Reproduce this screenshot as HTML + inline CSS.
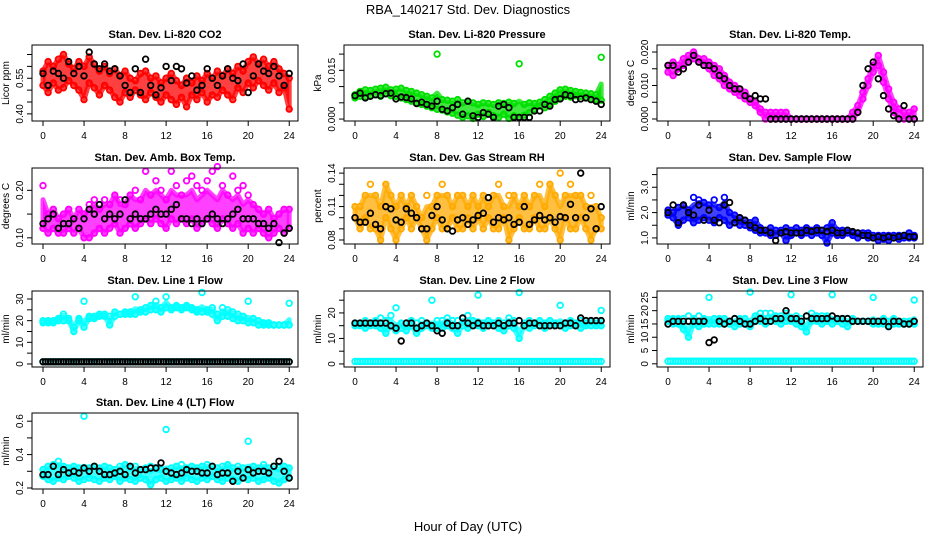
<!DOCTYPE html>
<html><head><meta charset="utf-8"><style>
body{margin:0;background:#fff}
svg{display:block;font-family:"Liberation Sans",sans-serif}
</style></head><body>
<svg id="chart" width="936" height="540" viewBox="0 0 936 540">
<text x="468" y="14" font-size="13" text-anchor="middle">RBA_140217  Std. Dev. Diagnostics</text>
<text x="468" y="531" font-size="13" text-anchor="middle">Hour of Day (UTC)</text>
</svg>
<script>
const xTicks=[0,4,8,12,16,20,24];
const co2A=[0.58,0.62,0.60,0.63,0.65,0.61,0.59,0.62,0.60,0.64,0.61,0.58,0.60,0.57,0.59,0.56,0.58,0.55,0.54,0.57,0.58,0.55,0.56,0.53,0.55,0.57,0.54,0.52,0.55,0.53,0.56,0.54,0.57,0.55,0.58,0.56,0.59,0.57,0.60,0.58,0.62,0.64,0.61,0.63,0.60,0.62,0.59,0.57,0.55];
const co2B=[0.52,0.49,0.53,0.50,0.51,0.54,0.52,0.50,0.46,0.53,0.51,0.48,0.52,0.50,0.47,0.45,0.49,0.47,0.50,0.48,0.46,0.49,0.47,0.45,0.48,0.46,0.44,0.47,0.43,0.48,0.46,0.49,0.45,0.48,0.47,0.50,0.48,0.46,0.51,0.49,0.53,0.51,0.54,0.52,0.50,0.53,0.49,0.51,0.42];
const co2K=[0.57,0.52,0.58,0.57,0.55,0.62,0.57,0.60,0.56,0.66,0.61,0.59,0.61,0.58,0.59,0.56,0.52,0.49,0.59,0.49,0.63,0.52,0.48,0.51,0.60,0.54,0.60,0.59,0.53,0.56,0.50,0.52,0.59,0.55,0.52,0.56,0.59,0.55,0.54,0.61,0.49,0.56,0.61,0.58,0.57,0.60,0.56,0.52,0.57];
const presA=[0.0075,0.0085,0.0090,0.0088,0.0092,0.0095,0.0098,0.0090,0.0092,0.0095,0.0088,0.0085,0.0080,0.0075,0.0070,0.0065,0.0200,0.0060,0.0058,0.0055,0.0060,0.0050,0.0055,0.0050,0.0045,0.0050,0.0048,0.0045,0.0050,0.0048,0.0052,0.0048,0.0170,0.0045,0.0050,0.0048,0.0052,0.0060,0.0070,0.0080,0.0090,0.0092,0.0088,0.0085,0.0082,0.0080,0.0078,0.0075,0.0190];
const presB=[0.0065,0.0070,0.0068,0.0072,0.0075,0.0070,0.0078,0.0072,0.0070,0.0065,0.0060,0.0055,0.0050,0.0045,0.0040,0.0035,0.0030,0.0028,0.0022,0.0018,0.0012,0.0005,0.0010,0.0002,0.0015,0.0008,0.0020,0.0010,0.0005,0.0015,0.0002,0.0010,0.0005,0.0012,0.0020,0.0030,0.0040,0.0035,0.0045,0.0055,0.0065,0.0070,0.0068,0.0072,0.0070,0.0065,0.0062,0.0060,0.0058];
const presK=[0.0072,0.0080,0.0065,0.0070,0.0075,0.0072,0.0078,0.0080,0.0062,0.0068,0.0066,0.0062,0.0048,0.0052,0.0045,0.0040,0.0055,0.0030,0.0025,0.0035,0.0045,0.0015,0.0055,0.0010,0.0005,0.0020,0.0015,0.0005,0.0040,0.0045,0.0035,0.0005,0.0005,0.0005,0.0005,0.0025,0.0025,0.0045,0.0040,0.0060,0.0062,0.0075,0.0072,0.0060,0.0062,0.0065,0.0060,0.0055,0.0045];
const tempA=[0.016,0.017,0.016,0.018,0.019,0.020,0.018,0.018,0.017,0.016,0.015,0.013,0.011,0.010,0.009,0.008,0.006,0.005,0.003,0.002,0.002,0.002,0.002,0.002,0,0,0,0,0,0,0,0,0,0,0,0,0.002,0.004,0.008,0.012,0.016,0.019,0.014,0.009,0.005,0.003,0.002,0.002,0.003];
const tempB=[0.014,0.013,0.015,0.016,0.017,0.018,0.017,0.016,0.015,0.013,0.012,0.010,0.009,0.008,0.007,0.006,0.005,0.004,0.002,0,0,0,0,0,0,0,0,0,0,0,0,0,0,0,0,0,0,0.002,0.006,0.010,0.014,0.016,0.011,0.006,0.002,0,0,0,0];
const tempK=[0.016,0.016,0.014,0.015,0.017,0.019,0.017,0.016,0.016,0.015,0.013,0.012,0.010,0.009,0.009,0.007,0.006,0.007,0.006,0.006,0,0,0,0,0,0,0,0,0,0,0,0,0,0,0,0,0,0.002,0.010,0.015,0.017,0.012,0.007,0.003,0.001,0,0.004,0,0];
const ambA=[0.21,0.15,0.16,0.14,0.15,0.16,0.14,0.16,0.15,0.17,0.18,0.16,0.18,0.17,0.19,0.18,0.17,0.19,0.20,0.18,0.24,0.19,0.22,0.20,0.18,0.24,0.21,0.19,0.22,0.23,0.21,0.20,0.22,0.24,0.25,0.21,0.19,0.23,0.20,0.21,0.19,0.17,0.16,0.15,0.16,0.14,0.15,0.16,0.16];
const ambB=[0.12,0.11,0.12,0.11,0.11,0.12,0.11,0.12,0.10,0.10,0.11,0.12,0.11,0.12,0.13,0.11,0.12,0.13,0.12,0.13,0.14,0.13,0.14,0.13,0.12,0.14,0.13,0.14,0.13,0.14,0.12,0.13,0.14,0.13,0.12,0.14,0.13,0.12,0.13,0.11,0.12,0.11,0.12,0.11,0.10,0.11,0.12,0.11,0.12];
const ambK=[0.13,0.14,0.15,0.12,0.13,0.13,0.14,0.12,0.14,0.16,0.15,0.17,0.14,0.15,0.14,0.15,0.18,0.14,0.15,0.14,0.14,0.15,0.16,0.15,0.15,0.16,0.17,0.14,0.14,0.13,0.14,0.13,0.14,0.15,0.14,0.13,0.14,0.15,0.16,0.14,0.14,0.14,0.13,0.13,0.12,0.13,0.09,0.11,0.12];
const rhA=[0.11,0.11,0.12,0.13,0.12,0.11,0.13,0.12,0.11,0.12,0.11,0.12,0.11,0.10,0.12,0.11,0.12,0.13,0.12,0.11,0.12,0.12,0.11,0.12,0.11,0.12,0.11,0.12,0.13,0.11,0.12,0.12,0.11,0.12,0.11,0.12,0.13,0.11,0.13,0.12,0.14,0.12,0.13,0.12,0.12,0.11,0.12,0.11,0.10];
const rhB=[0.10,0.09,0.10,0.09,0.09,0.08,0.10,0.09,0.08,0.09,0.10,0.09,0.10,0.09,0.08,0.09,0.10,0.09,0.09,0.10,0.09,0.09,0.10,0.09,0.10,0.09,0.10,0.09,0.09,0.10,0.08,0.09,0.10,0.09,0.09,0.10,0.09,0.09,0.10,0.09,0.08,0.10,0.09,0.09,0.10,0.09,0.08,0.09,0.09];
const rhK=[0.100,0.096,0.096,0.104,0.094,0.090,0.110,0.108,0.098,0.096,0.108,0.104,0.100,0.090,0.090,0.102,0.110,0.098,0.090,0.088,0.098,0.100,0.094,0.098,0.102,0.104,0.118,0.096,0.100,0.098,0.100,0.094,0.096,0.110,0.094,0.098,0.102,0.098,0.100,0.096,0.101,0.100,0.112,0.100,0.140,0.100,0.108,0.090,0.110];
const sfA=[2.1,2.0,2.2,2.3,2.1,2.6,2.5,2.4,2.3,2.5,2.2,2.6,2.0,1.9,1.8,1.7,1.6,1.7,1.4,1.3,1.4,1.3,1.3,1.4,1.3,1.4,1.3,1.4,1.3,1.4,1.3,1.4,1.6,1.3,1.3,1.3,1.2,1.2,1.2,1.2,1.1,1.1,1.1,1.1,1.1,1.1,1.1,1.2,1.1];
const sfB=[1.9,1.8,1.5,1.7,1.8,1.6,1.7,1.8,1.7,1.6,1.8,1.7,1.5,1.6,1.5,1.5,1.4,1.3,1.2,1.2,1.1,1.1,1.2,0.9,1.1,1.2,1.1,1.2,1.1,1.2,1.1,0.8,1.2,1.1,1.1,1.2,1.1,1.0,1.1,1.0,1.0,0.9,0.95,0.9,1.0,0.95,1.0,1.0,1.0];
const sfK=[2.0,2.3,1.6,2.3,2.0,1.9,2.3,1.7,2.1,1.7,1.6,2.3,2.4,1.6,1.8,1.7,1.5,1.4,1.3,1.3,1.2,0.9,1.2,1.25,1.2,1.2,1.2,1.3,1.25,1.3,1.3,1.25,1.3,1.2,1.2,1.3,1.25,1.2,1.1,1.1,1.0,1.05,1.0,1.05,1.0,1.05,1.1,1.05,1.05];
const l1A=[20,20,20,21,23,20,15,21,29,22,22,23,23,18,24,23,24,24,31,25,26,27,29,24,31,26,27,26,27,26,25,33,25,26,20,26,25,24,23,22,29,21,20,19,19,18,18,18,28];
const l1B=[19,19,19,20,20,21,17,20,17,21,21,22,22,22,22,23,23,23,23,24,24,25,25,26,26,25,26,25,26,25,24,24,24,23,23,22,22,21,20,20,19,19,18,18,18,18,18,18,18];
const zeroRow=[1,1,1,1,1,1,1,1,1,1,1,1,1,1,1,1,1,1,1,1,1,1,1,1,1,1,1,1,1,1,1,1,1,1,1,1,1,1,1,1,1,1,1,1,1,1,1,1,1,1,1,1,1,1,1,1,1,1,1,1,1,1,1,1,1,1,1,1,1,1,1,1,1,1,1,1,1,1,1,1,1,1,1,1,1,1,1,1,1,1,1,1,1,1,1,1,1];
const l2A=[16,16,17,16,17,18,17,19,22,16,16,17,16,17,16,25,17,17,18,17,17,18,19,17,27,16,17,16,17,16,18,17,28,16,17,16,17,16,17,16,23,16,17,16,17,16,17,16,21];
const l2B=[15,15,14,15,15,14,12,15,13,14,13,15,12,14,15,14,14,14,15,14,12,15,14,15,15,14,15,15,14,13,15,14,10,15,14,15,15,14,15,15,15,14,15,15,14,15,15,15,15];
const l2K=[16,16,16,16,16,16,16,15,14,9,16,16,14,15,16,15,13,12,16,15,15,18,16,15,16,15,15,15,16,15,16,16,17,15,16,16,15,15,15,15,15,16,16,15,18,17,17,17,17];
const l3A=[17,17,17,17,18,17,18,17,25,17,17,17,16,17,17,17,27,18,19,19,19,18,18,19,26,18,17,18,19,18,18,18,26,17,17,17,17,16,16,16,25,16,17,16,17,16,16,16,24];
const l3B=[16,15,15,13,10,15,14,15,15,15,15,15,15,14,15,15,14,16,16,15,16,16,15,16,16,15,14,12,16,16,15,16,15,16,15,14,16,16,16,16,15,15,15,14,15,15,15,15,15];
const l3K=[15,16,16,16,16,16,16,16,8,9,16,15,16,17,16,15,15,16,17,16,16,17,17,20,17,17,16,18,17,17,17,17,18,17,17,17,16,16,16,16,16,16,16,14,16,16,15,15,16];
const l4A=[0.31,0.33,0.34,0.36,0.33,0.32,0.33,0.32,0.63,0.32,0.33,0.32,0.33,0.32,0.31,0.33,0.34,0.32,0.33,0.31,0.32,0.33,0.32,0.31,0.55,0.32,0.33,0.34,0.32,0.33,0.32,0.33,0.34,0.33,0.32,0.33,0.34,0.32,0.33,0.32,0.48,0.33,0.32,0.34,0.32,0.33,0.32,0.33,0.32];
const l4B=[0.27,0.25,0.24,0.26,0.25,0.27,0.26,0.24,0.25,0.26,0.25,0.24,0.26,0.25,0.27,0.24,0.26,0.25,0.24,0.26,0.25,0.22,0.25,0.26,0.24,0.25,0.26,0.24,0.26,0.25,0.24,0.26,0.25,0.27,0.25,0.24,0.26,0.25,0.24,0.26,0.25,0.26,0.24,0.25,0.26,0.24,0.23,0.25,0.26];
const l4K=[0.28,0.28,0.33,0.28,0.31,0.29,0.30,0.29,0.32,0.30,0.33,0.30,0.28,0.28,0.29,0.30,0.28,0.33,0.29,0.31,0.31,0.32,0.32,0.35,0.30,0.29,0.28,0.29,0.31,0.30,0.30,0.29,0.29,0.33,0.28,0.29,0.29,0.24,0.30,0.26,0.31,0.29,0.30,0.30,0.29,0.33,0.36,0.30,0.26];

const NS="http://www.w3.org/2000/svg";
const svg=document.getElementById('chart');
const colX=[32,344,657], rowY=[45,168,291,413], W=266, H=76;
const panels=[
 {c:0,r:0,name:'co2',title:'Stan. Dev. Li-820 CO2',ylab:'Licor ppm',ylim:[0.37,0.69],ticks:[0.40,0.45,0.50,0.55,0.60,0.65],labels:['0.40','','','0.55','',''],cap:1,series:[[co2A,'#ff0000'],[co2B,'#ff0000'],[co2K,'#000']]},
 {c:1,r:0,name:'pressure',title:'Stan. Dev. Li-820 Pressure',ylab:'kPa',ylim:[-0.0006,0.0228],ticks:[0,0.005,0.010,0.015,0.020],labels:['0.000','','','0.015',''],cap:0.005,series:[[presA,'#00e000'],[presB,'#00e000'],[presK,'#000']]},
 {c:2,r:0,name:'temp',title:'Stan. Dev. Li-820 Temp.',ylab:'degrees C',ylim:[-0.0006,0.0221],ticks:[0,0.005,0.010,0.015,0.020],labels:['0.000','','0.010','','0.020'],cap:1,series:[[tempA,'#ff00ff'],[tempB,'#ff00ff'],[tempK,'#000']]},
 {c:0,r:1,name:'amb-box',title:'Stan. Dev. Amb. Box Temp.',ylab:'degrees C',ylim:[0.087,0.247],ticks:[0.10,0.15,0.20],labels:['0.10','','0.20'],cap:0.06,series:[[ambA,'#ff00ff'],[ambB,'#ff00ff'],[ambK,'#000']]},
 {c:1,r:1,name:'rh',title:'Stan. Dev. Gas Stream RH',ylab:'percent',ylim:[0.0764,0.1446],ticks:[0.08,0.09,0.10,0.11,0.12,0.13,0.14],labels:['0.08','','','0.11','','','0.14'],cap:0.03,series:[[rhA,'#ffaa00'],[rhB,'#ffaa00'],[rhK,'#000']]},
 {c:2,r:1,name:'sample-flow',title:'Stan. Dev. Sample Flow',ylab:'ml/min',ylim:[0.76,3.76],ticks:[1,1.5,2,2.5,3,3.5],labels:['1.0','','2.0','','3.0',''],cap:0.7,series:[[sfA,'#0000ff'],[sfB,'#0000ff'],[sfK,'#000']]},
 {c:0,r:2,name:'line1',title:'Stan. Dev. Line 1 Flow',ylab:'ml/min',ylim:[-1.4,33.7],ticks:[0,5,10,15,20,25,30],labels:['0','','10','','20','','30'],cap:2.5,series:[[l1A,'#00ffff'],[l1B,'#00ffff'],[zeroRow,'#00ffff'],[zeroRow,'#000']]},
 {c:1,r:2,name:'line2',title:'Stan. Dev. Line 2 Flow',ylab:'ml/min',ylim:[-1.2,28.6],ticks:[0,5,10,15,20,25],labels:['0','','10','','20',''],cap:2,series:[[l2A,'#00ffff'],[l2B,'#00ffff'],[zeroRow,'#00ffff'],[l2K,'#000']]},
 {c:2,r:2,name:'line3',title:'Stan. Dev. Line 3 Flow',ylab:'ml/min',ylim:[-1.2,27.4],ticks:[0,5,10,15,20,25],labels:['0','5','10','15','20','25'],cap:2,series:[[l3A,'#00ffff'],[l3B,'#00ffff'],[zeroRow,'#00ffff'],[l3K,'#000']]},
 {c:0,r:3,name:'line4',title:'Stan. Dev. Line 4 (LT) Flow',ylab:'ml/min',ylim:[0.194,0.649],ticks:[0.2,0.3,0.4,0.5,0.6],labels:['0.2','','0.4','','0.6'],cap:0.08,series:[[l4A,'#00ffff'],[l4B,'#00ffff'],[l4K,'#000']]}
];
function mk(tag,attrs,parent){const e=document.createElementNS(NS,tag);for(const k in attrs)e.setAttribute(k,attrs[k]);parent.appendChild(e);return e;}
panels.forEach(p=>{
 const x0=colX[p.c], y0=rowY[p.r];
 const g=mk('g',{},svg);
 
 
 const xs=h=>x0+11+h*10.26;
 const ys=v=>y0+H-(v-p.ylim[0])/(p.ylim[1]-p.ylim[0])*H;
 const t=mk('text',{x:x0+W/2,y:y0-7,'font-size':11,'font-weight':'bold','text-anchor':'middle'},g);
 t.textContent=p.title;
 
 
 // dense cloud band between the two main series
 const A=p.series[0][0], B=p.series[1][0], n=A.length, col=p.series[0][1];
 const top=[], bot=[];
 for(let i=0;i<n;i++){
  const lo=Math.min(A[i],B[i]), hi=Math.min(Math.max(A[i],B[i]),lo+p.cap);
  top.push(xs(i*24/(n-1)).toFixed(1)+','+ys(hi).toFixed(1));
  bot.unshift(xs(i*24/(n-1)).toFixed(1)+','+ys(lo).toFixed(1));
 }
 const band=mk('polygon',{points:top.concat(bot).join(' '),fill:col,'fill-opacity':0.75,stroke:col,'stroke-width':5,'stroke-linejoin':'round','stroke-opacity':0.75},g);
 
 
 p.series.forEach((s,si)=>{
  const arr=s[0], m=arr.length;
  const sg=mk('g',{fill:'none',stroke:s[1],'stroke-width':s[1]=='#000'?1.8:1.8},g);
  
  
  arr.forEach((v,i)=>{
   const c=mk('circle',{cx:xs(i*24/(m-1)).toFixed(1),cy:ys(v).toFixed(1),r:2.8},sg);
   
   
  });
 });
 const box=mk('rect',{x:x0,y:y0,width:W,height:H,fill:'none',stroke:'#000','stroke-width':1},g);
 
 
 const xa=mk('g',{},g);
 
 
 mk('line',{x1:xs(0),x2:xs(24),y1:y0+H,y2:y0+H,stroke:'#000'},xa);
 xTicks.forEach(h=>{
  mk('line',{x1:xs(h),x2:xs(h),y1:y0+H,y2:y0+H+5,stroke:'#000'},xa);
  const l=mk('text',{x:xs(h),y:y0+H+18,'font-size':10,'text-anchor':'middle'},xa);
  l.textContent=h;
 });
 const ya=mk('g',{},g);
 
 
 p.ticks.forEach((v,i)=>{
  const y=ys(v);
  mk('line',{x1:x0-5,x2:x0,y1:y,y2:y,stroke:'#000'},ya);
  if(p.labels[i]){
   const l=mk('text',{x:x0-9,y:y,'font-size':10,'text-anchor':'middle',transform:`rotate(-90 ${x0-9} ${y})`},ya);
   l.textContent=p.labels[i];
  }
 });
 const yt=mk('text',{x:x0-23,y:y0+H/2,'font-size':10,'text-anchor':'middle',transform:`rotate(-90 ${x0-23} ${y0+H/2})`},g);
 yt.textContent=p.ylab;
 
 
});
</script>
</body></html>
